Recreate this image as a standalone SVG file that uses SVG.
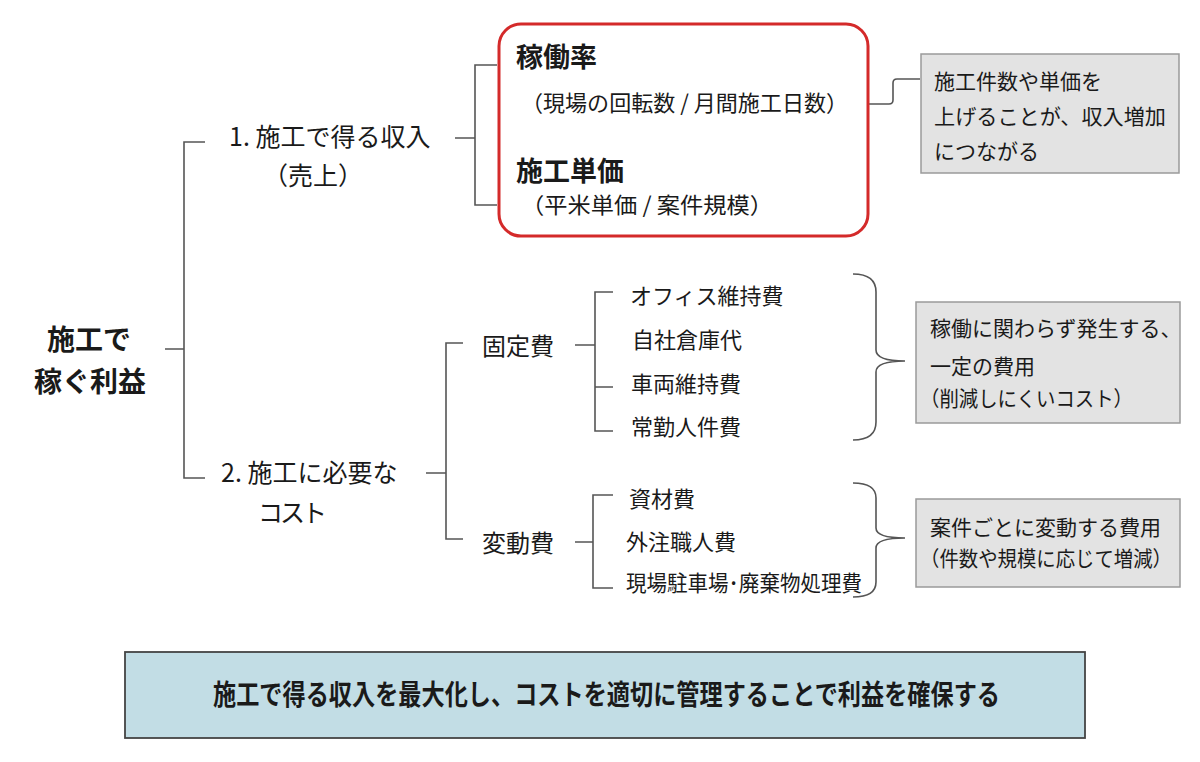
<svg xmlns="http://www.w3.org/2000/svg" width="1200" height="762" viewBox="0 0 1200 762">
<style>
text{font-family:"Noto Sans CJK JP","Noto Sans",sans-serif;fill:#1a1a1a}
.c{fill:none;stroke:#555;stroke-width:1.6}
.root{font-size:28px;font-weight:bold}
.lv1{font-size:25px}
.lv2{font-size:24px}
.item{font-size:22px}
.kpi{font-size:27px;font-weight:bold}
.sub{font-size:22px}
.note{fill:#e3e3e3;stroke:#9a9a9a;stroke-width:1.5}
.nt{font-size:21px}
</style>
<rect width="1200" height="762" fill="#ffffff"/>
<g id="connectors">
<path class="c" d="M165,349 H184 M205,142 H184 V478 H205"/>
<path class="c" d="M455,138 H475 M497,65 H475 V205 H497"/>
<path class="c" d="M868,104 H889 Q893,104 893,100 V83 Q893,79 897,79 H920"/>
<path class="c" d="M426,473 H446 M463,343 H446 V539 H463"/>
<path class="c" d="M575,345 H595 M613,292 H595 V431 H613 M595,387 H613"/>
<path class="c" d="M575,542 H593 M613,495 H593 V588 H613"/>
<path class="c" d="M853,274 Q876,274 876,292 V350 Q876,361 905,361 Q876,361 876,372 V422 Q876,440 853,440"/>
<path class="c" d="M853,483 Q876,483 876,498 V528 Q876,538 905,538 Q876,538 876,548 V582 Q876,597 853,597"/>
</g>
<g id="root">
<text class="root" x="89" y="350" text-anchor="middle">施工で</text>
<text class="root" x="90" y="392" text-anchor="middle">稼ぐ利益</text>
</g>
<g id="income">
<text class="lv1" x="229" y="146">1. 施工で得る収入</text>
<text class="lv1" x="263" y="185">（売上）</text>
</g>
<g id="income-drivers">
<rect x="499" y="24" width="369" height="212" rx="22" fill="#ffffff" stroke="#d42a2a" stroke-width="3"/>
<text class="kpi" x="516" y="67">稼働率</text>
<text class="sub" x="521" y="111" textLength="327" lengthAdjust="spacingAndGlyphs">（現場の回転数 / 月間施工日数）</text>
<text class="kpi" x="516" y="181">施工単価</text>
<text class="sub" x="521" y="213" textLength="252" lengthAdjust="spacingAndGlyphs">（平米単価 / 案件規模）</text>
</g>
<g id="note-income">
<rect class="note" x="921" y="54" width="258" height="119"/>
<text class="nt" x="934" y="89" font-size="24">施工件数や単価を</text>
<text class="nt" x="934" y="124" font-size="22" textLength="232" lengthAdjust="spacingAndGlyphs">上げることが、収入増加</text>
<text class="nt" x="934" y="159" font-size="23">につながる</text>
</g>
<g id="cost">
<text class="lv1" x="221" y="482">2. 施工に必要な</text>
<text class="lv1" x="258" y="522" letter-spacing="-3">コスト</text>
</g>
<g id="fixed">
<text class="lv2" x="482" y="355">固定費</text>
<text class="item" x="630" y="304">オフィス維持費</text>
<text class="item" x="632" y="348">自社倉庫代</text>
<text class="item" x="631" y="392">車両維持費</text>
<text class="item" x="631" y="435">常勤人件費</text>
</g>
<g id="variable">
<text class="lv2" x="482" y="552">変動費</text>
<text class="item" x="629" y="507">資材費</text>
<text class="item" x="626" y="550">外注職人費</text>
<text class="item" x="626" y="591" textLength="236" lengthAdjust="spacingAndGlyphs">現場駐車場･廃棄物処理費</text>
</g>
<g id="note-fixed">
<rect class="note" x="916" y="302" width="264" height="121"/>
<text class="nt" x="930" y="336">稼働に関わらず発生する、</text>
<text class="nt" x="930" y="374">一定の費用</text>
<text class="nt" x="920" y="406" textLength="213" lengthAdjust="spacingAndGlyphs">（削減しにくいコスト）</text>
</g>
<g id="note-variable">
<rect class="note" x="916" y="499" width="264" height="88"/>
<text class="nt" x="930" y="535">案件ごとに変動する費用</text>
<text class="nt" x="920" y="566" textLength="252" lengthAdjust="spacingAndGlyphs">（件数や規模に応じて増減）</text>
</g>
<g id="summary">
<rect x="125" y="652" width="960" height="86" fill="#c2dde5" stroke="#444" stroke-width="1.8"/>
<text x="213" y="705" font-size="28" font-weight="bold" textLength="787" lengthAdjust="spacingAndGlyphs">施工で得る収入を最大化し、コストを適切に管理することで利益を確保する</text>
</g>
</svg>
